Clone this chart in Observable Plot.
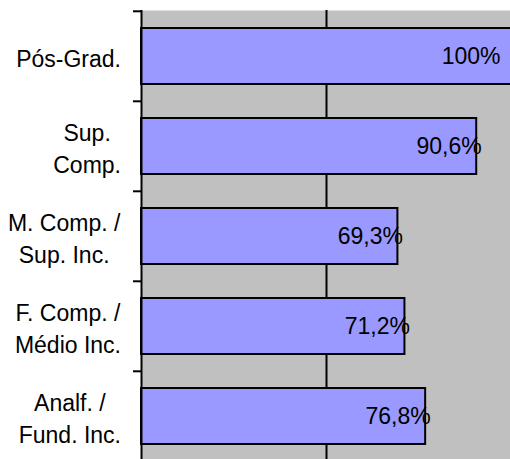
<!DOCTYPE html>
<html>
<head>
<meta charset="utf-8">
<script src="https://cdn.jsdelivr.net/npm/d3@7"></script>
<script src="https://cdn.jsdelivr.net/npm/@observablehq/plot@0.6"></script>
<style>
  html, body { margin: 0; padding: 0; background: #ffffff; overflow: hidden; }
  svg { display: block; }
</style>
</head>
<body>
<script>
// ---- data ----
const categories = ["Pós-Grad.", "Sup.\nComp.", "M. Comp. /\nSup. Inc.", "F. Comp. /\nMédio Inc.", "Analf. /\nFund. Inc."];
const values = [1.0, 0.906, 0.693, 0.712, 0.768];
const gridValues = [0.5];

// ---- layout ----
const W = 510, H = 459;
const xRange = [141, 511];
const yRange = [10, 462];
const step = (yRange[1] - yRange[0]) / categories.length;
const labelRight = 121;
const labelInk = "#000001";
const invX = px => (px - xRange[0]) / (xRange[1] - xRange[0]);
const labelCap = invX(W - 15);
const fmt = d3.formatLocale({decimal: ",", thousands: ".", grouping: [3], currency: ["R$", ""]}).format(".1~%");
const font = "'Liberation Sans', Arial, sans-serif";
const fs = 23;

const data = categories.map((c, i) => ({cat: c, v: values[i]}));

const chart = Plot.plot({
  width: W, height: H,
  marginLeft: xRange[0], marginRight: 0, marginTop: yRange[0], marginBottom: 0,
  style: {fontFamily: font, fontSize: fs + "px", background: "white", color: "black", overflow: "hidden"},
  x: {domain: [0, 1], range: xRange, axis: null},
  y: {domain: categories, range: yRange, paddingInner: 0.38, paddingOuter: 0.19, axis: null},
  marks: [
    Plot.frame({fill: "#C0C0C0", stroke: "none"}),
    Plot.ruleX(gridValues, {stroke: "black", strokeWidth: 2}),
    Plot.barX(data, {x: "v", y: "cat", fill: "#9999FF", stroke: "black", strokeWidth: 2}),
    Plot.ruleX([0], {stroke: "black", strokeWidth: 2}),
    Plot.axisY({tickSize: 8, tickFormat: () => "", label: null, dy: -step / 2, stroke: "black", strokeWidth: 2}),
    Plot.text(data, {x: d => Math.min(d.v, labelCap), y: "cat", text: d => fmt(d.v), textAnchor: "end", dx: 5, fontSize: fs, fill: "black"}),
    Plot.text(data, {y: "cat", text: "cat", frameAnchor: "left", textAnchor: "middle", lineAnchor: "middle", lineHeight: 1.4, fontSize: fs, fill: labelInk})
  ]
});

document.body.append(chart);
const sr = chart.getBoundingClientRect();
chart.querySelectorAll("text").forEach(t => {
  const g = t.closest("g");
  const ink = (t.getAttribute("fill") || (g && g.getAttribute("fill")) || "").toLowerCase();
  if (ink !== labelInk) return;
  const r = t.getBoundingClientRect();
  const dx = labelRight - (r.right - sr.left);
  t.setAttribute("transform", ((t.getAttribute("transform") || "") + ` translate(${dx},0)`).trim());
});
</script>
</body>
</html>
